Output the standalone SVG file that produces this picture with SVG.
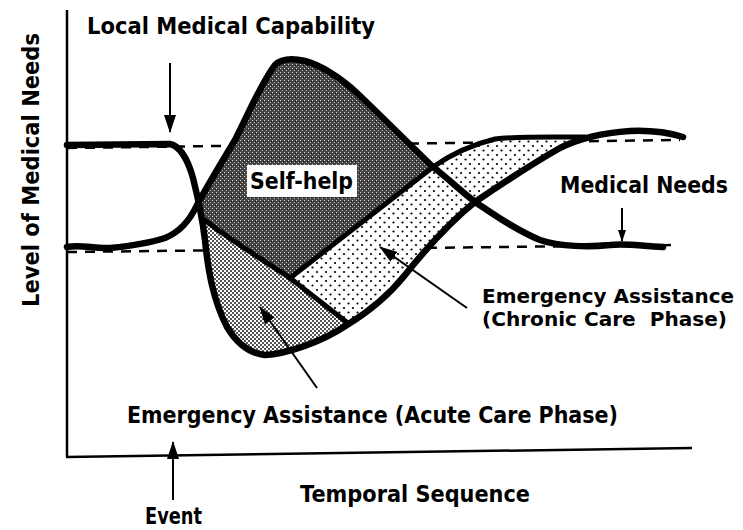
<svg xmlns="http://www.w3.org/2000/svg" width="743" height="530" viewBox="0 0 743 530">
<style>
  text { font-family: "DejaVu Sans", "Liberation Sans", sans-serif; font-weight: bold; fill: #000; }
  .lbl { font-size: 22.5px; }
  .lbl2 { font-size: 19.5px; }
  .axis { stroke: #000; stroke-width: 2.5; fill: none; }
  .dash { stroke: #000; stroke-width: 2.5; stroke-dasharray: 10 8; fill: none; }
  .thick { stroke: #000; stroke-width: 6.5; fill: none; stroke-linejoin: round; stroke-linecap: round; }
  .mid { stroke: #000; stroke-width: 5; fill: none; stroke-linejoin: round; stroke-linecap: round; }
  .arrow { stroke: #000; stroke-width: 2; fill: none; }
</style>
<defs>
  <pattern id="dense" width="4" height="4" patternUnits="userSpaceOnUse">
    <rect width="4" height="4" fill="#fff"/>
    <circle cx="1" cy="1" r="0.9" fill="#000"/>
    <circle cx="3" cy="3" r="0.9" fill="#000"/>
  </pattern>
  <pattern id="sparse" width="9" height="9" patternUnits="userSpaceOnUse">
    <rect width="9" height="9" fill="#fff"/>
    <circle cx="2" cy="2" r="1.1" fill="#000"/>
    <circle cx="6.5" cy="6.5" r="1.1" fill="#000"/>
  </pattern>
  <pattern id="darkgrain" width="4" height="4" patternUnits="userSpaceOnUse">
    <rect width="4" height="4" fill="#444"/>
    <rect x="0" y="0" width="1" height="1" fill="#ddd"/>
    <rect x="2" y="2" width="1" height="1" fill="#bbb"/>
    <rect x="3" y="1" width="1" height="1" fill="#1a1a1a"/>
  </pattern>
  <marker id="ah" viewBox="0 0 18 12" refX="17" refY="6" markerWidth="18" markerHeight="12" markerUnits="userSpaceOnUse" orient="auto">
    <path d="M0,0 L18,6 L0,12 Z" fill="#000"/>
  </marker>
  <marker id="ahs" viewBox="0 0 12 8" refX="11" refY="4" markerWidth="12" markerHeight="8" markerUnits="userSpaceOnUse" orient="auto">
    <path d="M0,0 L12,4 L0,8 Z" fill="#000"/>
  </marker>
</defs>

<g id="axes">
  <line class="axis" x1="67" y1="10" x2="67" y2="457"/>
  <line class="axis" x1="66" y1="457" x2="692" y2="448"/>
  <line class="dash" x1="67" y1="148" x2="680" y2="140"/>
  <line class="dash" x1="67" y1="252" x2="676" y2="245"/>
</g>

<g id="self-help-region">
  <path fill="url(#darkgrain)" d="M197,205 C205,190 220,165 235,140 C248,115 260,85 275,65 C282,58 292,58 305,61 C320,65 340,77 357,93 C375,110 405,140 433,167 L290,278 C260,258 230,240 202,218 Z"/>
</g>
<g id="acute-region">
  <path fill="url(#dense)" d="M202,218 C230,240 260,258 290,278 L347,325 C320,343 285,354 265,355 C248,353 236,342 227,327 C213,300 208,270 205,240 Z"/>
</g>
<g id="chronic-region">
  <path fill="url(#sparse)" d="M290,278 L347,325 C365,314 385,300 405,275 C425,250 450,222 475,202 C500,185 530,165 560,148 C572,142 580,139 588,137 C560,137 530,136 495,139 C470,145 450,155 433,167 Z"/>
</g>

<g id="curves">
  <path id="capability-curve" class="thick" d="M67,145 L170,144 C180,146 188,160 193,178 C198,198 202,215 205,240 C208,270 213,300 227,327 C236,342 248,353 265,355 C285,354 320,343 347,325 C365,314 385,300 405,275 C425,250 450,222 475,202 C500,185 530,165 560,148 C580,138 600,133 630,131 C655,130 670,133 683,137"/>
  <path id="needs-curve" class="thick" d="M67,247 C80,244 95,249 110,248 C130,246 150,243 165,238 C180,232 190,220 197,205 C205,190 220,165 235,140 C248,115 260,85 275,65 C282,58 292,58 305,61 C320,65 340,77 357,93 C375,110 405,140 433,167 C450,180 465,195 478,204 C495,215 515,230 540,240 C560,247 590,247 610,245 C625,243 640,246 663,247"/>
  <path id="assistance-line" class="mid" d="M290,278 L433,167 C450,155 470,145 495,139 C520,136 550,137 585,137"/>
  <path id="acute-divider" class="mid" d="M202,218 C230,240 260,258 290,278 L349,324"/>
</g>

<g id="connectors">
  <line class="arrow" x1="170" y1="63" x2="170" y2="132" marker-end="url(#ah)"/>
  <line class="arrow" x1="622" y1="208" x2="622" y2="241" marker-end="url(#ahs)"/>
  <line class="arrow" x1="173" y1="500" x2="173" y2="442" marker-end="url(#ah)"/>
  <line class="arrow" x1="317" y1="388" x2="260" y2="307" marker-end="url(#ah)"/>
  <line class="arrow" x1="467" y1="308" x2="380" y2="247" marker-end="url(#ah)"/>
</g>

<g id="label-capability"><text class="lbl" x="87" y="34" textLength="288" lengthAdjust="spacingAndGlyphs">Local Medical Capability</text></g>
<g id="label-yaxis"><text class="lbl" transform="translate(39,307) rotate(-90)" x="0" y="0" textLength="274" lengthAdjust="spacingAndGlyphs">Level of Medical Needs</text></g>
<g id="label-selfhelp">
  <rect x="247" y="165" width="110" height="32" fill="#fff"/>
  <text class="lbl" x="250" y="189" textLength="103" lengthAdjust="spacingAndGlyphs">Self-help</text>
</g>
<g id="label-needs"><text class="lbl" x="560" y="193" textLength="168" lengthAdjust="spacingAndGlyphs">Medical Needs</text></g>
<g id="label-chronic">
  <text class="lbl2" x="482" y="303" textLength="252" lengthAdjust="spacingAndGlyphs">Emergency Assistance</text>
  <text class="lbl2" x="482" y="326" textLength="245" lengthAdjust="spacingAndGlyphs" xml:space="preserve" style="white-space:pre">(Chronic Care  Phase)</text>
</g>
<g id="label-acute"><text class="lbl" x="127" y="423" textLength="491" lengthAdjust="spacingAndGlyphs">Emergency Assistance (Acute Care Phase)</text></g>
<g id="label-temporal"><text class="lbl" x="300" y="502" textLength="230" lengthAdjust="spacingAndGlyphs">Temporal Sequence</text></g>
<g id="label-event"><text class="lbl" x="145" y="524" font-size="21" textLength="57" lengthAdjust="spacingAndGlyphs">Event</text></g>
</svg>
